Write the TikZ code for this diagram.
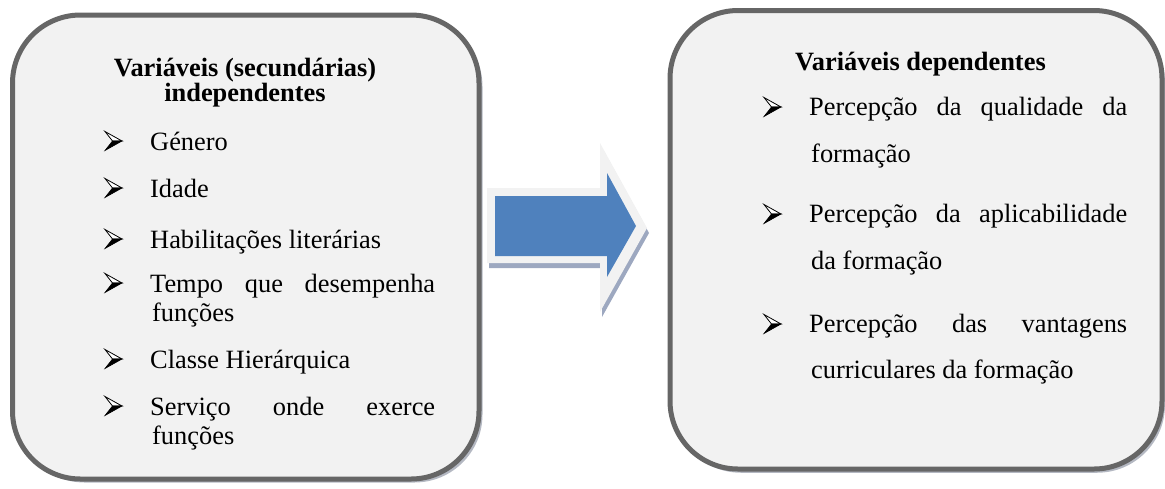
\documentclass[tikz,border=0pt]{standalone}
\usepackage{fontspec}
\setmainfont{Liberation Serif}
\definecolor{boxline}{HTML}{666666}
\definecolor{boxfill}{HTML}{F2F2F2}
\definecolor{shadowgray}{HTML}{B4B8C2}
\definecolor{arrowblue}{HTML}{4F81BD}
\definecolor{arrowshadow}{HTML}{9DA8C0}
\begin{document}
\begin{tikzpicture}[x=1pt,y=-1pt,
  panel/.style={draw=boxline, line width=5pt, fill=boxfill, rounded corners=68pt,
    inner sep=0pt, outer sep=0pt},
  panelshadow/.style={fill=shadowgray, rounded corners=68pt, inner sep=0pt, outer sep=0pt},
  txt/.style={anchor=base west, inner sep=0pt, font=\fontsize{26.4pt}{31pt}\selectfont},
  head/.style={inner sep=0pt, font=\bfseries\fontsize{26.4pt}{31pt}\selectfont},
  bulletarrow/.pic={
    % arrowhead bullet: outlined upper half, solid lower half
    \path[draw=black, line width=0.8pt, line join=miter, fill=white]
      (0,-9.5) -- (17,0) -- (7.5,0) -- cycle;
    \path[fill=black, draw=black, line width=0.6pt, line join=miter]
      (7.5,0) -- (17,0) -- (0,9.5) -- cycle;
  }]
\useasboundingbox (0,0) rectangle (1165,488);

% left panel: independent variables
\node[panelshadow, minimum width=466pt, minimum height=464pt] (lshadow) at (249.5,250.5) {};
\node[panel, minimum width=466.5pt, minimum height=464pt] (lbox) at (245.75,247) {};

% right panel: dependent variables
\node[panelshadow, minimum width=492pt, minimum height=458.5pt] (rshadow) at (919,243.5) {};
\node[panel, minimum width=492pt, minimum height=458.5pt] (rbox) at (916,239.75) {};

% block arrow between the panels: shadow, pale halo, blue body
\path[fill=arrowshadow]
  (489,193) -- (602,193) -- (602,148) -- (649,233) -- (602,317) -- (602,268) -- (489,268) -- cycle;
\path[fill=boxfill]
  (487,188) -- (600,188) -- (600,143) -- (647,228) -- (600,312) -- (600,263) -- (487,263) -- cycle;
\path[fill=arrowblue]
  (495,196) -- (607,196) -- (607,173) -- (636,226) -- (607,277) -- (607,256) -- (495,256) -- cycle;

% left panel text
\node[head, anchor=base] (lh1) at (245,76) {Variáveis (secundárias)};
\node[head, anchor=base] (lh2) at (245,101) {independentes};
\pic at (105,141) {bulletarrow};
\node[txt] (l1) at (150,150) {Género};
\pic at (105,188) {bulletarrow};
\node[txt] (l2) at (150,197) {Idade};
\pic at (105,239) {bulletarrow};
\node[txt] (l3) at (150,248) {Habilitações literárias};
\pic at (105,283) {bulletarrow};
\node[txt] (l4a) at (150,292) {\makebox[285pt][s]{Tempo que desempenha}};
\node[txt] (l4b) at (152,321) {funções};
\pic at (105,359) {bulletarrow};
\node[txt] (l5) at (150,368) {Classe Hierárquica};
\pic at (105,406) {bulletarrow};
\node[txt] (l6a) at (150,415) {\makebox[285pt][s]{Serviço onde exerce}};
\node[txt] (l6b) at (152,444) {funções};

% right panel text
\node[head, anchor=base west] (rh) at (795,70) {Variáveis dependentes};
\pic at (764,107) {bulletarrow};
\node[txt] (r1a) at (809,115) {\makebox[318pt][s]{Percepção da qualidade da}};
\node[txt] (r1b) at (811,162) {formação};
\pic at (764,214) {bulletarrow};
\node[txt] (r2a) at (809,222) {\makebox[318pt][s]{Percepção da aplicabilidade}};
\node[txt] (r2b) at (811,269) {da formação};
\pic at (764,324) {bulletarrow};
\node[txt] (r3a) at (809,332) {\makebox[318pt][s]{Percepção das vantagens}};
\node[txt] (r3b) at (811,378) {curriculares da formação};
\end{tikzpicture}
\end{document}
